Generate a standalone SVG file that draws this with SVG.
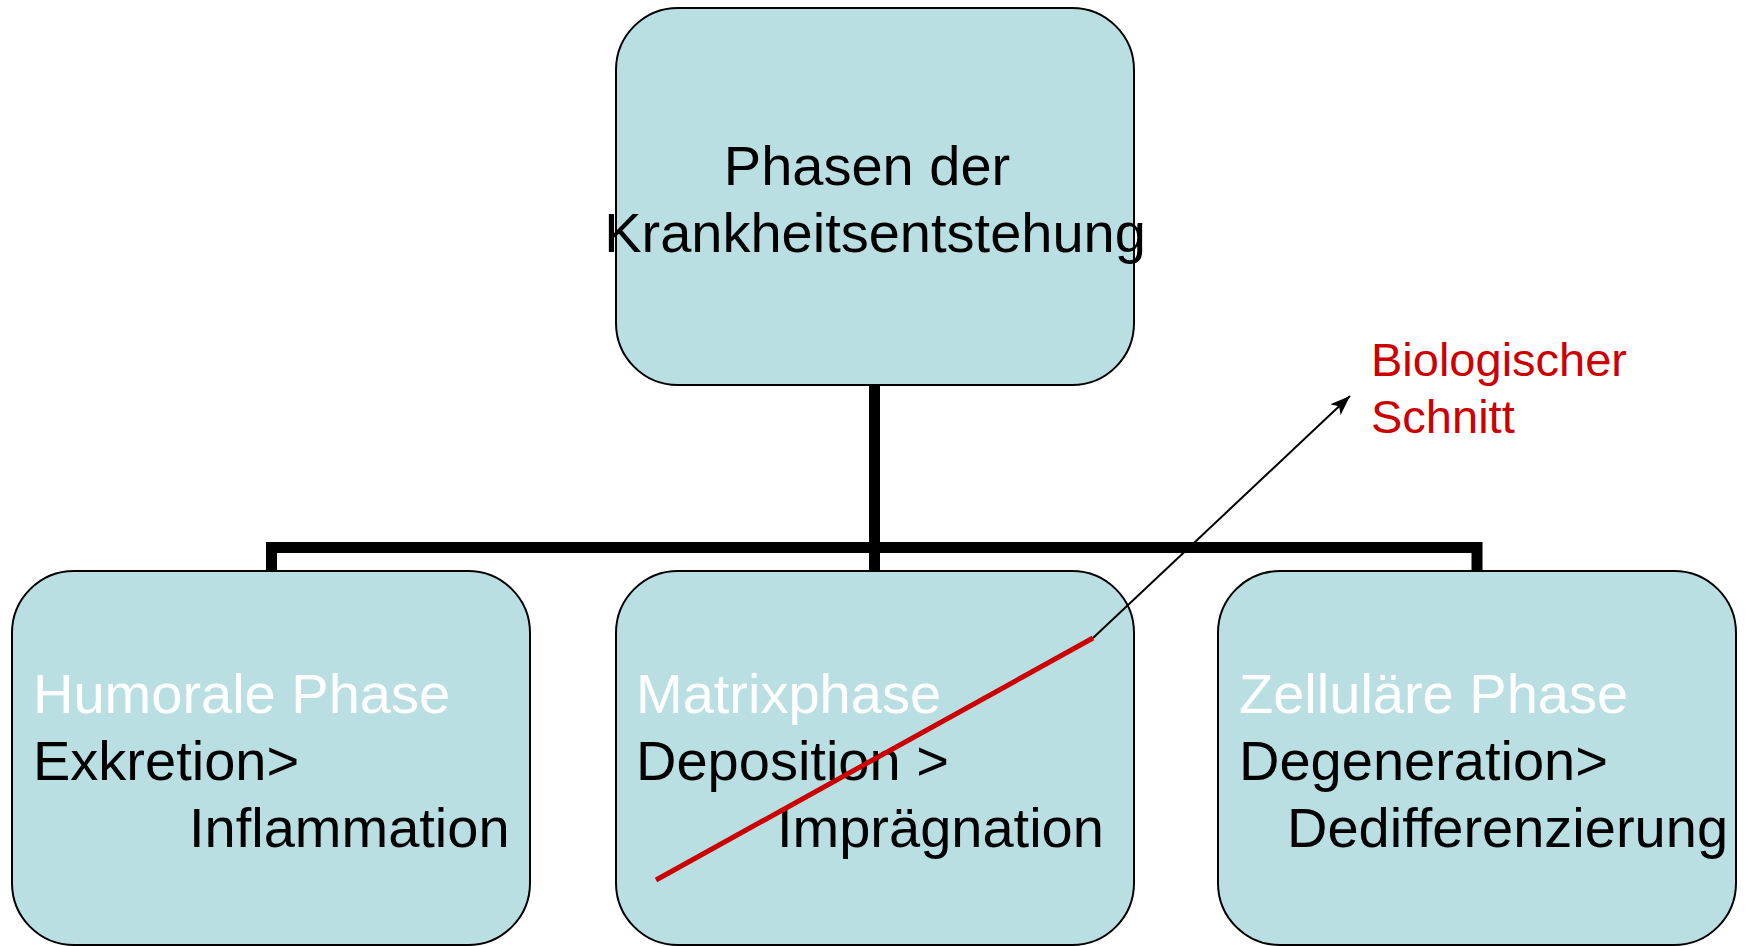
<svg xmlns="http://www.w3.org/2000/svg" width="1746" height="946" viewBox="0 0 1746 946">
<style>
.box{fill:#BADFE2;stroke:#000;stroke-width:2}
.t{font-family:"Liberation Sans",Arial,sans-serif;font-size:56px;fill:#000}
.w{fill:#fff}
.red{font-family:"Liberation Sans",Arial,sans-serif;font-size:47px;fill:#CC0000}
.bar{fill:none;stroke:#000;stroke-width:11;stroke-linejoin:miter}
</style>
<defs>
<marker id="ah" markerWidth="20" markerHeight="15" refX="20" refY="7.5" orient="auto" markerUnits="userSpaceOnUse" viewBox="0 0 20 15">
<path d="M0,0 L20,7.5 L0,15 L5,7.5 Z" fill="#000"/>
</marker>
</defs>
<g id="connectors">
<path class="bar" d="M874.5,385 V570 M271.5,571 V547.5 H1477 V571"/>
</g>
<g id="top">
<rect class="box" x="616" y="8" width="518" height="377" rx="62" ry="62"/>
<text class="t" x="867" y="185" text-anchor="middle">Phasen der</text>
<text class="t" x="875" y="252" text-anchor="middle">Krankheitsentstehung</text>
</g>
<g id="humoral">
<rect class="box" x="12" y="571" width="518" height="374" rx="62" ry="62"/>
<text class="t w" x="33" y="713">Humorale Phase</text>
<text class="t" x="33" y="780">Exkretion&gt;</text>
<text class="t" x="189" y="847">Inflammation</text>
</g>
<g id="matrix">
<rect class="box" x="616" y="571" width="518" height="374" rx="62" ry="62"/>
<text class="t w" x="636" y="713">Matrixphase</text>
<text class="t" x="636" y="780">Deposition &gt;</text>
<text class="t" x="777" y="847">Imprägnation</text>
</g>
<g id="zellular">
<rect class="box" x="1218" y="571" width="518" height="374" rx="62" ry="62"/>
<text class="t w" x="1239" y="713">Zelluläre Phase</text>
<text class="t" x="1239" y="780">Degeneration&gt;</text>
<text class="t" x="1287" y="847">Dedifferenzierung</text>
</g>
<g id="schnitt">
<line x1="656" y1="880" x2="1093" y2="638" stroke="#CC0000" stroke-width="5"/>
<line x1="1093" y1="638" x2="1350" y2="396" stroke="#000" stroke-width="2" marker-end="url(#ah)"/>
<text class="red" x="1371" y="376">Biologischer</text>
<text class="red" x="1371" y="433">Schnitt</text>
</g>
</svg>
